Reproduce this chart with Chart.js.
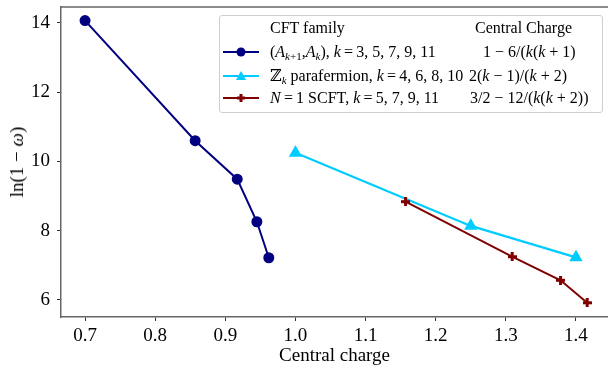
<!DOCTYPE html>
<html>
<head>
<meta charset="utf-8">
<script src="https://cdn.jsdelivr.net/npm/chart.js@4.4.1/dist/chart.umd.min.js"></script>
<style>
html, body { margin: 0; padding: 0; background: #fff; overflow: hidden; }
#wrap { position: relative; width: 608px; height: 366px; overflow: hidden; }
.ser { font-family: "Liberation Serif", "DejaVu Serif", serif; color: #000; }
#ytitle { position: absolute; left: 17px; top: 162px; font-size: 19px; white-space: nowrap;
  transform: translate(-50%, -50%) rotate(-90deg); }
#legend { position: absolute; left: 219px; top: 15px; width: 384px; height: 98px; box-sizing: border-box;
  border: 1px solid #cfcfcf; border-radius: 3px; background: rgba(255,255,255,0.85); font-size: 16px; }
#legend div { position: absolute; line-height: 20px; white-space: nowrap; }
#legend svg { position: absolute; left: 3px; }
sub { font-size: 11px; vertical-align: -3px; line-height: 0; }
i { font-style: italic; }
</style>
</head>
<body>
<div id="wrap">
  <canvas id="cftChart" width="608" height="366"></canvas>
  <div id="ytitle" class="ser">ln(1 − <i>ω</i>)</div>
  <div id="legend" class="ser">
    <div style="left:50px;top:2px">CFT family</div>
    <div style="left:255px;top:2px">Central Charge</div>

    <svg width="36" height="12" style="top:30px"><line x1="0" y1="6" x2="36" y2="6" stroke="#000080" stroke-width="2.2"/><circle cx="18" cy="6" r="4.5" fill="#000080"/></svg>
    <div style="left:50px;top:26px">(<i>A</i><sub><i>k</i>+1</sub>,<i>A<sub>k</sub></i>), <i>k</i>&thinsp;=&thinsp;3, 5, 7, 9, 11</div>
    <div style="left:263px;top:26px">1 − 6/(<i>k</i>(<i>k</i> + 1)</div>

    <svg width="36" height="12" style="top:54px"><line x1="0" y1="6" x2="36" y2="6" stroke="#00ccff" stroke-width="2.2"/><polygon points="18,1 23,10 13,10" fill="#00ccff"/></svg>
    <div style="left:50px;top:50px">ℤ<sub><i>k</i></sub> parafermion, <i>k</i>&thinsp;=&thinsp;4, 6, 8, 10</div>
    <div style="left:249px;top:50px">2(<i>k</i> − 1)/(<i>k</i> + 2)</div>

    <svg width="36" height="12" style="top:76px"><line x1="0" y1="6" x2="36" y2="6" stroke="#800000" stroke-width="2.2"/><rect x="16.5" y="2" width="3" height="8" fill="#800000"/><rect x="14" y="4.5" width="8" height="3" fill="#800000"/></svg>
    <div style="left:50px;top:72px"><i>N</i>&thinsp;=&thinsp;1 SCFT, <i>k</i>&thinsp;=&thinsp;5, 7, 9, 11</div>
    <div style="left:250px;top:72px">3/2 − 12/(<i>k</i>(<i>k</i> + 2))</div>
  </div>
</div>
<script>
// (A_{k+1}, A_k) minimal models
const minimalCharge = [0.7, 0.857, 0.917, 0.945, 0.962];
const minimalLn = [14.07, 10.6, 9.49, 8.26, 7.22];
// Z_k parafermions
const paraCharge = [1.0, 1.25, 1.4];
const paraLn = [10.25, 8.14, 7.23];
// N=1 SCFT
const scftCharge = [1.157, 1.309, 1.378, 1.416];
const scftLn = [8.84, 7.25, 6.57, 5.92];

const xTicks = [0.7, 0.8, 0.9, 1.0, 1.1, 1.2, 1.3, 1.4];
const yTicks = [6, 8, 10, 12, 14];

const navy = "#000080", cyan = "#00ccff", maroon = "#800000";
const serif = "'Liberation Serif', 'DejaVu Serif', serif";

function pts(xs, ys) {
  return xs.map((x, i) => ({ x: x, y: ys[i] }));
}

// filled "P" style plus marker
function plusMarker(color) {
  const c = document.createElement("canvas");
  c.width = 9; c.height = 9;
  const g = c.getContext("2d");
  g.fillStyle = color;
  g.fillRect(3, 0, 3, 9);
  g.fillRect(0, 3, 9, 3);
  return c;
}

const topSpine = {
  id: "topSpine",
  afterDraw(chart) {
    const a = chart.chartArea, g = chart.ctx;
    g.save();
    g.strokeStyle = "#666";
    g.lineWidth = 1.5;
    g.beginPath();
    g.moveTo(a.left, a.top);
    g.lineTo(a.right, a.top);
    g.stroke();
    g.restore();
  }
};

const ctx = document.getElementById("cftChart");

new Chart(ctx, {
  type: "scatter",
  data: {
    datasets: [
      { data: pts(minimalCharge, minimalLn), showLine: true, borderColor: navy, backgroundColor: navy,
        borderWidth: 2, pointStyle: "circle", pointRadius: 4.5, order: 3 },
      { data: pts(paraCharge, paraLn), showLine: true, borderColor: cyan, backgroundColor: cyan,
        borderWidth: 2.2, pointStyle: "triangle", pointRadius: 5.5, order: 2 },
      { data: pts(scftCharge, scftLn), showLine: true, borderColor: maroon, backgroundColor: maroon,
        borderWidth: 2, pointStyle: plusMarker(maroon), order: 1 }
    ]
  },
  options: {
    responsive: false,
    animation: false,
    devicePixelRatio: 1,
    layout: { autoPadding: false, padding: { top: 7, left: 0, right: 0, bottom: 0 } },
    plugins: { legend: { display: false }, tooltip: { enabled: false } },
    scales: {
      x: {
        type: "linear", min: 0.6657, max: 1.4457,
        afterBuildTicks: s => { s.ticks = xTicks.map(v => ({ value: v })); },
        afterFit: s => { s.height = 49; s.paddingLeft = 0; s.paddingRight = 0; },
        grid: { drawOnChartArea: false, drawTicks: true, tickLength: 4, tickColor: "#333" },
        border: { color: "#666", width: 1.5 },
        ticks: { color: "#000", font: { family: serif, size: 19 }, padding: 4, maxRotation: 0,
          autoSkip: false, callback: v => v.toFixed(1) },
        title: { display: true, text: "Central charge", color: "#000",
          font: { family: serif, size: 19, lineHeight: 1.0 }, padding: { top: 0, bottom: 0 } }
      },
      y: {
        type: "linear", min: 5.509, max: 14.462,
        afterBuildTicks: s => { s.ticks = yTicks.map(v => ({ value: v })); },
        afterFit: s => { s.width = 61; s.paddingTop = 0; s.paddingBottom = 0; },
        grid: { drawOnChartArea: false, drawTicks: true, tickLength: 4, tickColor: "#333" },
        border: { color: "#666", width: 1.5 },
        ticks: { color: "#000", font: { family: serif, size: 19 }, padding: 7, callback: v => String(v) }
      }
    }
  },
  plugins: [topSpine]
});
</script>
</body>
</html>
